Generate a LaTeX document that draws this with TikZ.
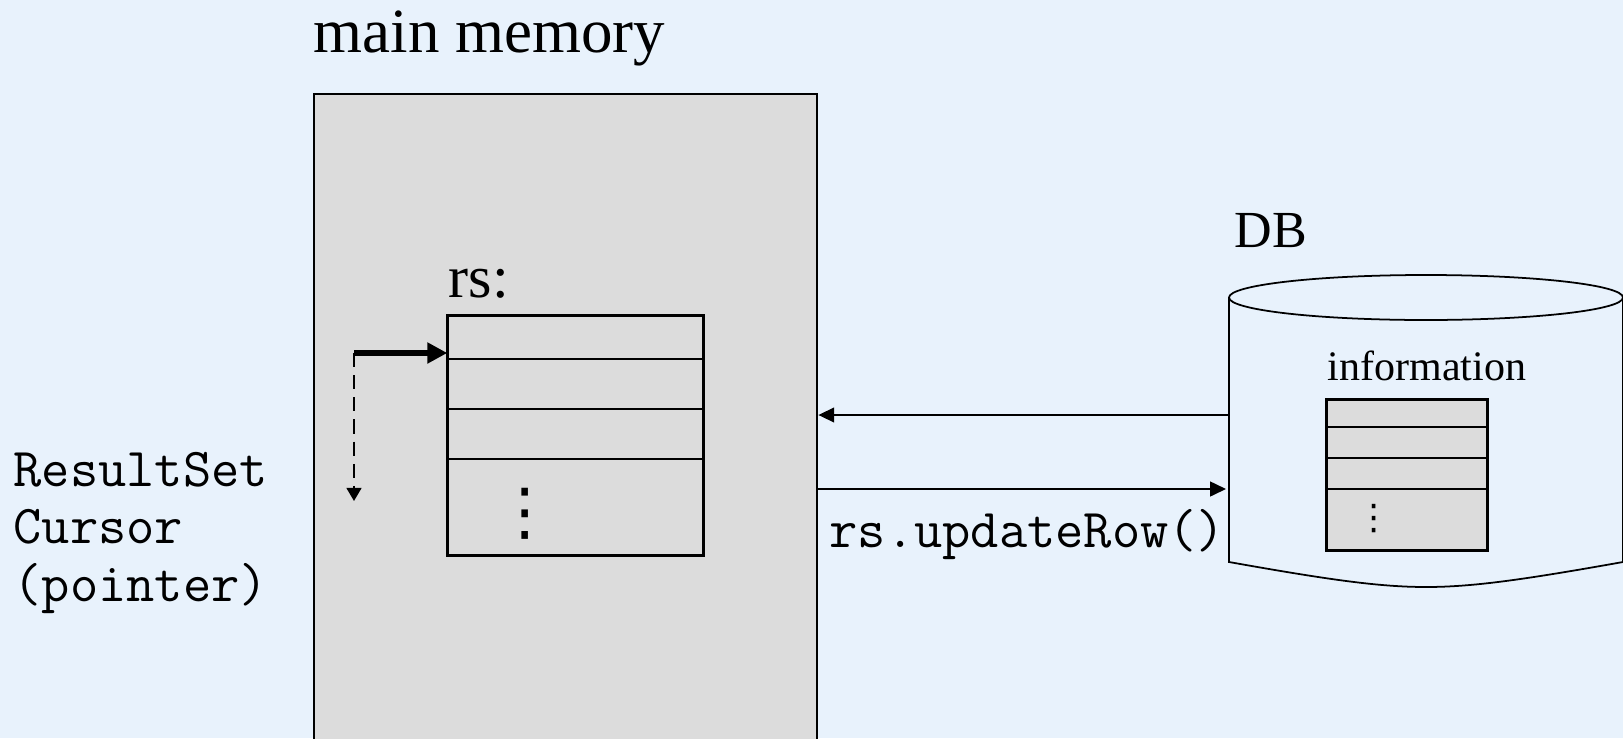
\documentclass[tikz,border=0pt]{standalone}
\usepackage{fontspec}
\setmainfont{Liberation Serif}
\newfontfamily\symfont{DejaVu Sans}
\usetikzlibrary{arrows.meta}
\definecolor{slidebg}{HTML}{E8F2FC}
\definecolor{memgray}{HTML}{DCDCDC}
\tikzset{
  rsrow/.style={draw, line width=0.35pt, minimum width=2.55cm, inner sep=0pt},
  inforow/.style={draw, line width=0.35pt, fill=memgray, minimum width=1.6cm, inner sep=0pt},
  flow/.style={line width=0.5pt, -{Triangle[length=4.5pt,width=4.2pt]}},
  label/.style={inner sep=0pt, anchor=base west}
}

\begin{document}
\begin{tikzpicture}[x=0.01cm, y=0.01cm]
    \useasboundingbox (0,0) rectangle (1623,738);
    \fill[slidebg] (0,0) rectangle (1623,738);
    % main memory
    \node[draw, line width=0.6pt, fill=memgray, anchor=north west, minimum width=5.03cm, minimum height=6.8cm] (mem) at (313,645) {};
    \node[label, font=\fontsize{17.9}{20}\selectfont] (memlbl) at (313,686) {main memory};
    % result set
    \node[label, font=\fontsize{17.1}{20}\selectfont] (rslbl) at (448,441) {rs:};
    \node[rsrow, minimum height=0.43cm] (rs1) at (575.5,400.5) {};
    \node[rsrow, minimum height=0.5cm] (rs2) at (575.5,354) {};
    \node[rsrow, minimum height=0.5cm] (rs3) at (575.5,304) {};
    \node[rsrow, minimum height=0.96cm] (rs4) at (575.5,231) {};
    \draw[line width=0.6pt] (rs1.north west) rectangle (rs4.south east);
    \node[inner sep=0pt, font=\symfont\fontsize{18}{20}\selectfont] (rsdots) at (525,224) {⋮};
    % cursor
    \coordinate (cur) at (354,385);
    \coordinate (curend) at (354,237);
    \draw[line width=1.5pt, -{Triangle[length=5.7pt,width=5.7pt]}] (cur) -- (cur -| rs1.west);
    \draw[line width=0.55pt, dash pattern=on 4pt off 2.3pt, -{Triangle[length=3.7pt,width=4.2pt]}] (cur) -- (curend);
    \node[label, align=left, font=\ttfamily\fontsize{15.6}{16.3}\selectfont] (curlbl) at (13,136.7) {ResultSet\\Cursor\\(pointer)};
    % database
    \node[label, font=\fontsize{14.8}{18}\selectfont] (dblbl) at (1234,490.7) {DB};
    \draw[line width=0.5pt] (1426,440.5) ellipse [x radius=197, y radius=22.5];
    \draw[line width=0.5pt] (1229,440.5) -- (1229,176)
      .. controls (1330,158) and (1380,151) .. (1426,151)
      .. controls (1472,151) and (1522,158) .. (1623,176) -- (1623,440.5);
    \node[label, font=\fontsize{11.95}{14}\selectfont] (infolbl) at (1327,358) {information};
    \node[inforow, minimum height=0.27cm] (info1) at (1407,324.5) {};
    \node[inforow, minimum height=0.31cm] (info2) at (1407,295.5) {};
    \node[inforow, minimum height=0.31cm] (info3) at (1407,264.5) {};
    \node[inforow, minimum height=0.61cm] (info4) at (1407,218.5) {};
    \draw[line width=0.6pt] (info1.north west) rectangle (info4.south east);
    \node[inner sep=0pt, font=\symfont\fontsize{10}{12}\selectfont] (infodots) at (1374,219) {⋮};
    % transfers
    \coordinate (dbin) at (1229,323);
    \coordinate (dbout) at (1226,249);
    \draw[flow] (dbin) -- (dbin -| mem.east);
    \draw[flow] (dbout -| mem.east) -- (dbout);
    \node[label, font=\ttfamily\fontsize{15.6}{16.3}\selectfont] (updlbl) at (829,191) {rs.updateRow()};
\end{tikzpicture}
\end{document}
